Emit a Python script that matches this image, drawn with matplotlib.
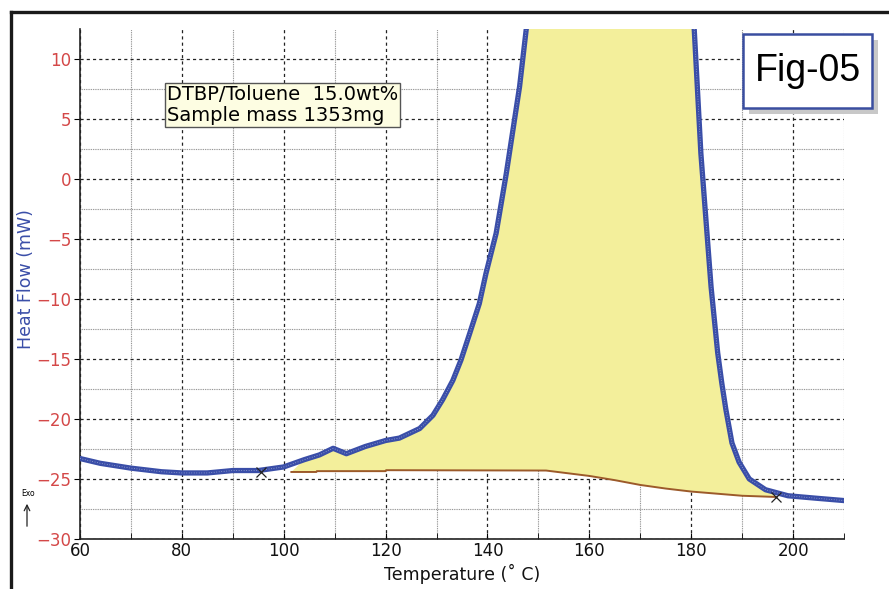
import numpy as np
import matplotlib
matplotlib.use("Agg")
import matplotlib.pyplot as plt
from matplotlib.lines import Line2D
from matplotlib.patches import Rectangle
from matplotlib.ticker import MultipleLocator

# DSC heat flow curve (Temperature in C, Heat Flow in mW)
temp = [60, 64, 70, 76, 80, 85, 90, 95, 100, 104, 107, 109.7, 112.3, 116, 120,
        122.7, 126.7, 129.3, 131.2, 133.2, 134.8, 136.5, 138.4, 139.7, 141.7,
        143.7, 145, 146.3, 147.6, 150, 165, 179, 180.6, 181.2, 181.9, 182.9,
        183.9, 185.2, 186, 186.8, 188, 189.4, 191.4, 194.6, 199, 204.4, 210]
heat = [-23.3, -23.7, -24.1, -24.4, -24.5, -24.5, -24.3, -24.3, -24.0, -23.4,
        -23.0, -22.45, -22.9, -22.3, -21.8, -21.6, -20.8, -19.7, -18.4, -16.8,
        -15.1, -12.9, -10.4, -7.9, -4.55, 0.44, 4.05, 7.65, 12.4, 20, 30, 20,
        12.4, 7.65, 2.1, -3.45, -9.0, -14.5, -17.0, -19.2, -22.0, -23.6, -25.0,
        -25.9, -26.4, -26.6, -26.8]

# integration baseline
base_t = [101.5, 106.4, 106.5, 120, 120.1, 151.5, 160, 165, 170, 175, 180, 190, 196.6]
base_h = [-24.42, -24.42, -24.35, -24.35, -24.27, -24.3, -24.75, -25.1, -25.5,
          -25.8, -26.05, -26.4, -26.5]

# baseline end markers
mark_t = [95.5, 196.6]
mark_h = [-24.4, -26.5]

BLUE = "#3a4ea8"
RED = "#d44848"
YELLOW = "#f3ef9b"
BROWN = "#9c5a2a"

fig = plt.figure(figsize=(8.89, 5.89), dpi=100)
ax = fig.add_axes([80 / 889, 1 - 539 / 589, (844 - 80) / 889, (539 - 29) / 589])

# shaded peak area: curve between the baseline ends, closed along the baseline
t0, t1 = base_t[0], base_t[-1]
seg = [(t, h) for t, h in zip(temp, heat) if t0 < t < t1]
poly_x = [t0] + [p[0] for p in seg] + base_t[::-1]
poly_y = [base_h[0]] + [p[1] for p in seg] + base_h[::-1]
ax.fill(poly_x, poly_y, color=YELLOW, lw=0, zorder=2)

ax.plot(base_t, base_h, color=BROWN, lw=1.4, zorder=3)
ax.plot(temp, heat, color=BLUE, lw=3.8, solid_capstyle="round",
        solid_joinstyle="round", zorder=4)
ax.plot(temp, heat, color="white", lw=0.6, ls=(0, (1, 2)), alpha=0.5, zorder=5)
ax.plot(mark_t, mark_h, ls="none", marker="x", ms=7, mew=0.9, color="#222222", zorder=6)

ax.set_xlim(60, 210)
ax.set_ylim(-30, 12.46)
ax.xaxis.set_major_locator(MultipleLocator(20))
ax.xaxis.set_minor_locator(MultipleLocator(10))
ax.yaxis.set_major_locator(MultipleLocator(5))
ax.yaxis.set_minor_locator(MultipleLocator(2.5))
ax.grid(which="major", color="#222222", lw=0.9, ls=(0, (2.5, 2.5)), zorder=1)
ax.grid(which="minor", color="#8a8a8a", lw=0.8, ls=(0, (0.8, 0.8)), zorder=1)
ax.set_axisbelow(True)

for s in ["top", "right"]:
    ax.spines[s].set_visible(False)
for s in ["left", "bottom"]:
    ax.spines[s].set_color("#222222")
    ax.spines[s].set_linewidth(1.2)

ax.tick_params(axis="x", which="both", direction="in", length=4, labelsize=12,
               labelcolor="#111111", pad=2)
ax.tick_params(axis="y", which="major", direction="out", length=4, labelsize=12,
               labelcolor=RED, pad=2)
ax.tick_params(axis="y", which="minor", length=0)

ax.set_xlabel("Temperature (\u02da C)", fontsize=12.5, color="#111111", labelpad=3)
ax.set_ylabel("Heat Flow (mW)", fontsize=12.5, color=BLUE)
ax.yaxis.set_label_coords(-0.059, 0.51)

# sample info box
ax.text(0.114, 0.890, "DTBP/Toluene  15.0wt%\nSample mass 1353mg",
        transform=ax.transAxes, fontsize=14, va="top", ha="left",
        linespacing=1.12, zorder=7,
        bbox=dict(boxstyle="square,pad=0.1", fc="#fdfde2", ec="#555555", lw=1.0))

# figure tag with drop shadow
fx0, fy0, fw, fh = 743 / 889, 1 - 108 / 589, 129 / 889, 74 / 589
fig.patches.append(Rectangle((fx0 + 6 / 889, fy0 - 6 / 589), fw, fh,
                             transform=fig.transFigure, fc="#c8c8c8", ec="none", zorder=8))
fig.patches.append(Rectangle((fx0, fy0), fw, fh, transform=fig.transFigure,
                             fc="white", ec="#3a4ea0", lw=1.8, zorder=9))
fig.text(fx0 + fw / 2, fy0 + fh / 2, "Fig-05", fontsize=27, family="Liberation Sans",
         ha="center", va="center", zorder=10)

# Exo marker
fig.text(28 / 889, 1 - 494 / 589, "Exo", fontsize=5.5, ha="center", va="center")
ax.annotate("", xy=(27 / 889, 1 - 501 / 589), xytext=(27 / 889, 1 - 529 / 589),
            xycoords="figure fraction", textcoords="figure fraction",
            arrowprops=dict(arrowstyle="->", lw=0.9, color="#222222"),
            annotation_clip=False)

# outer frame
fig.lines.append(Line2D([11 / 889, 11 / 889], [0, 1 - 12 / 589], transform=fig.transFigure,
                        color="#1a1a1a", lw=2.4))
fig.lines.append(Line2D([11 / 889, 1], [1 - 12 / 589, 1 - 12 / 589], transform=fig.transFigure,
                        color="#1a1a1a", lw=2.4))

fig.savefig("out.png", dpi=100)
